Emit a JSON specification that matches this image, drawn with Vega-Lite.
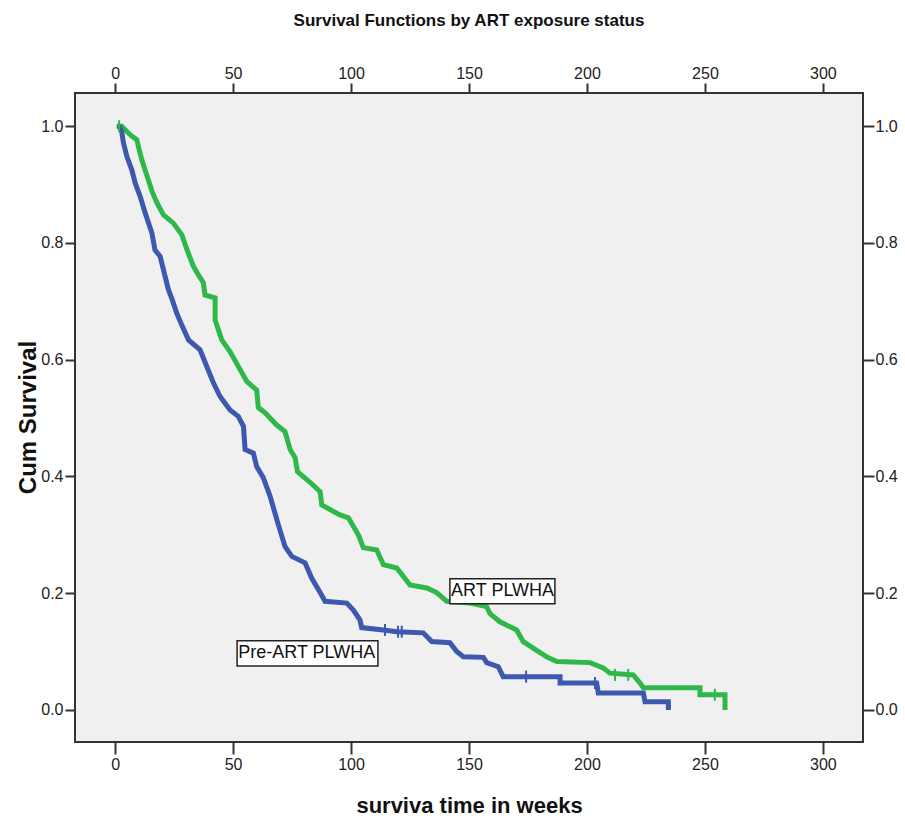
{
  "$schema": "https://vega.github.io/schema/vega-lite/v6.json",
  "width": 788,
  "height": 649,
  "autosize": {"type": "none"},
  "padding": {"left": 75, "top": 93, "right": 42, "bottom": 90},
  "background": "white",
  "title": {"text": "Survival Functions by ART exposure status", "fontSize": 17, "font": "Liberation Sans", "fontWeight": "bold", "color": "#111111", "anchor": "middle", "baseline": "alphabetic", "offset": 22},
  "config": {
    "view": {"fill": "#F0F0F0", "stroke": "#333333", "strokeWidth": 2},
    "font": "Liberation Sans",
    "axis": {"domain": false, "grid": false, "tickColor": "#333333", "tickWidth": 2, "labelFont": "Liberation Sans", "labelFontSize": 16, "labelColor": "#222222", "titleFont": "Liberation Sans", "titleFontWeight": "bold", "titleColor": "#111111"}
  },
  "datasets": {
    "curves": [
      {"group": "ART PLWHA", "i": 1, "t": 1.7, "S": 1.0},
      {"group": "ART PLWHA", "i": 2, "t": 2.8, "S": 1.0},
      {"group": "ART PLWHA", "i": 3, "t": 5.0, "S": 0.991},
      {"group": "ART PLWHA", "i": 4, "t": 6.8, "S": 0.984},
      {"group": "ART PLWHA", "i": 5, "t": 9.2, "S": 0.977},
      {"group": "ART PLWHA", "i": 6, "t": 10.2, "S": 0.960},
      {"group": "ART PLWHA", "i": 7, "t": 11.3, "S": 0.943},
      {"group": "ART PLWHA", "i": 8, "t": 12.7, "S": 0.925},
      {"group": "ART PLWHA", "i": 9, "t": 14.1, "S": 0.908},
      {"group": "ART PLWHA", "i": 10, "t": 15.7, "S": 0.888},
      {"group": "ART PLWHA", "i": 11, "t": 17.7, "S": 0.869},
      {"group": "ART PLWHA", "i": 12, "t": 20.5, "S": 0.848},
      {"group": "ART PLWHA", "i": 13, "t": 24.7, "S": 0.834},
      {"group": "ART PLWHA", "i": 14, "t": 28.3, "S": 0.814},
      {"group": "ART PLWHA", "i": 15, "t": 30.5, "S": 0.788},
      {"group": "ART PLWHA", "i": 16, "t": 33.2, "S": 0.760},
      {"group": "ART PLWHA", "i": 17, "t": 35.2, "S": 0.746},
      {"group": "ART PLWHA", "i": 18, "t": 37.4, "S": 0.732},
      {"group": "ART PLWHA", "i": 19, "t": 38.1, "S": 0.711},
      {"group": "ART PLWHA", "i": 20, "t": 42.4, "S": 0.706},
      {"group": "ART PLWHA", "i": 21, "t": 42.4, "S": 0.668},
      {"group": "ART PLWHA", "i": 22, "t": 45.2, "S": 0.634},
      {"group": "ART PLWHA", "i": 23, "t": 48.7, "S": 0.614},
      {"group": "ART PLWHA", "i": 24, "t": 53.0, "S": 0.583},
      {"group": "ART PLWHA", "i": 25, "t": 55.8, "S": 0.563},
      {"group": "ART PLWHA", "i": 26, "t": 60.0, "S": 0.548},
      {"group": "ART PLWHA", "i": 27, "t": 60.7, "S": 0.518},
      {"group": "ART PLWHA", "i": 28, "t": 63.6, "S": 0.509},
      {"group": "ART PLWHA", "i": 29, "t": 68.5, "S": 0.488},
      {"group": "ART PLWHA", "i": 30, "t": 72.0, "S": 0.477},
      {"group": "ART PLWHA", "i": 31, "t": 74.2, "S": 0.446},
      {"group": "ART PLWHA", "i": 32, "t": 76.3, "S": 0.432},
      {"group": "ART PLWHA", "i": 33, "t": 77.3, "S": 0.408},
      {"group": "ART PLWHA", "i": 34, "t": 82.6, "S": 0.390},
      {"group": "ART PLWHA", "i": 35, "t": 86.9, "S": 0.374},
      {"group": "ART PLWHA", "i": 36, "t": 87.6, "S": 0.351},
      {"group": "ART PLWHA", "i": 37, "t": 95.3, "S": 0.334},
      {"group": "ART PLWHA", "i": 38, "t": 98.9, "S": 0.329},
      {"group": "ART PLWHA", "i": 39, "t": 103.1, "S": 0.300},
      {"group": "ART PLWHA", "i": 40, "t": 105.2, "S": 0.278},
      {"group": "ART PLWHA", "i": 41, "t": 110.9, "S": 0.274},
      {"group": "ART PLWHA", "i": 42, "t": 113.7, "S": 0.249},
      {"group": "ART PLWHA", "i": 43, "t": 119.4, "S": 0.243},
      {"group": "ART PLWHA", "i": 44, "t": 125.0, "S": 0.214},
      {"group": "ART PLWHA", "i": 45, "t": 132.1, "S": 0.209},
      {"group": "ART PLWHA", "i": 46, "t": 136.3, "S": 0.201},
      {"group": "ART PLWHA", "i": 47, "t": 140.6, "S": 0.186},
      {"group": "ART PLWHA", "i": 48, "t": 150.4, "S": 0.183},
      {"group": "ART PLWHA", "i": 49, "t": 157.5, "S": 0.177},
      {"group": "ART PLWHA", "i": 50, "t": 158.9, "S": 0.165},
      {"group": "ART PLWHA", "i": 51, "t": 163.1, "S": 0.151},
      {"group": "ART PLWHA", "i": 52, "t": 170.2, "S": 0.137},
      {"group": "ART PLWHA", "i": 53, "t": 173.0, "S": 0.117},
      {"group": "ART PLWHA", "i": 54, "t": 177.2, "S": 0.106},
      {"group": "ART PLWHA", "i": 55, "t": 182.9, "S": 0.091},
      {"group": "ART PLWHA", "i": 56, "t": 187.2, "S": 0.083},
      {"group": "ART PLWHA", "i": 57, "t": 201.3, "S": 0.081},
      {"group": "ART PLWHA", "i": 58, "t": 206.9, "S": 0.072},
      {"group": "ART PLWHA", "i": 59, "t": 209.7, "S": 0.063},
      {"group": "ART PLWHA", "i": 60, "t": 219.6, "S": 0.060},
      {"group": "ART PLWHA", "i": 61, "t": 222.5, "S": 0.046},
      {"group": "ART PLWHA", "i": 62, "t": 223.9, "S": 0.038},
      {"group": "ART PLWHA", "i": 63, "t": 247.9, "S": 0.038},
      {"group": "ART PLWHA", "i": 64, "t": 247.9, "S": 0.026},
      {"group": "ART PLWHA", "i": 65, "t": 258.5, "S": 0.026},
      {"group": "ART PLWHA", "i": 66, "t": 258.5, "S": 0.004},
      {"group": "Pre-ART PLWHA", "i": 1, "t": 2.1, "S": 0.997},
      {"group": "Pre-ART PLWHA", "i": 2, "t": 2.8, "S": 0.991},
      {"group": "Pre-ART PLWHA", "i": 3, "t": 3.5, "S": 0.972},
      {"group": "Pre-ART PLWHA", "i": 4, "t": 5.0, "S": 0.948},
      {"group": "Pre-ART PLWHA", "i": 5, "t": 7.1, "S": 0.925},
      {"group": "Pre-ART PLWHA", "i": 6, "t": 8.5, "S": 0.903},
      {"group": "Pre-ART PLWHA", "i": 7, "t": 10.6, "S": 0.880},
      {"group": "Pre-ART PLWHA", "i": 8, "t": 12.7, "S": 0.852},
      {"group": "Pre-ART PLWHA", "i": 9, "t": 15.6, "S": 0.817},
      {"group": "Pre-ART PLWHA", "i": 10, "t": 16.9, "S": 0.788},
      {"group": "Pre-ART PLWHA", "i": 11, "t": 19.1, "S": 0.777},
      {"group": "Pre-ART PLWHA", "i": 12, "t": 20.5, "S": 0.754},
      {"group": "Pre-ART PLWHA", "i": 13, "t": 22.6, "S": 0.720},
      {"group": "Pre-ART PLWHA", "i": 14, "t": 24.2, "S": 0.703},
      {"group": "Pre-ART PLWHA", "i": 15, "t": 26.1, "S": 0.680},
      {"group": "Pre-ART PLWHA", "i": 16, "t": 28.4, "S": 0.658},
      {"group": "Pre-ART PLWHA", "i": 17, "t": 31.1, "S": 0.634},
      {"group": "Pre-ART PLWHA", "i": 18, "t": 36.0, "S": 0.617},
      {"group": "Pre-ART PLWHA", "i": 19, "t": 38.9, "S": 0.588},
      {"group": "Pre-ART PLWHA", "i": 20, "t": 41.7, "S": 0.560},
      {"group": "Pre-ART PLWHA", "i": 21, "t": 44.5, "S": 0.537},
      {"group": "Pre-ART PLWHA", "i": 22, "t": 48.7, "S": 0.514},
      {"group": "Pre-ART PLWHA", "i": 23, "t": 52.2, "S": 0.503},
      {"group": "Pre-ART PLWHA", "i": 24, "t": 54.4, "S": 0.486},
      {"group": "Pre-ART PLWHA", "i": 25, "t": 55.1, "S": 0.446},
      {"group": "Pre-ART PLWHA", "i": 26, "t": 58.6, "S": 0.440},
      {"group": "Pre-ART PLWHA", "i": 27, "t": 60.0, "S": 0.417},
      {"group": "Pre-ART PLWHA", "i": 28, "t": 62.8, "S": 0.398},
      {"group": "Pre-ART PLWHA", "i": 29, "t": 65.7, "S": 0.366},
      {"group": "Pre-ART PLWHA", "i": 30, "t": 69.2, "S": 0.317},
      {"group": "Pre-ART PLWHA", "i": 31, "t": 72.0, "S": 0.280},
      {"group": "Pre-ART PLWHA", "i": 32, "t": 74.9, "S": 0.263},
      {"group": "Pre-ART PLWHA", "i": 33, "t": 80.5, "S": 0.252},
      {"group": "Pre-ART PLWHA", "i": 34, "t": 83.3, "S": 0.226},
      {"group": "Pre-ART PLWHA", "i": 35, "t": 86.9, "S": 0.201},
      {"group": "Pre-ART PLWHA", "i": 36, "t": 89.0, "S": 0.186},
      {"group": "Pre-ART PLWHA", "i": 37, "t": 98.2, "S": 0.183},
      {"group": "Pre-ART PLWHA", "i": 38, "t": 101.0, "S": 0.171},
      {"group": "Pre-ART PLWHA", "i": 39, "t": 103.8, "S": 0.154},
      {"group": "Pre-ART PLWHA", "i": 40, "t": 104.5, "S": 0.141},
      {"group": "Pre-ART PLWHA", "i": 41, "t": 113.7, "S": 0.137},
      {"group": "Pre-ART PLWHA", "i": 42, "t": 119.4, "S": 0.134},
      {"group": "Pre-ART PLWHA", "i": 43, "t": 130.6, "S": 0.132},
      {"group": "Pre-ART PLWHA", "i": 44, "t": 134.2, "S": 0.117},
      {"group": "Pre-ART PLWHA", "i": 45, "t": 141.9, "S": 0.115},
      {"group": "Pre-ART PLWHA", "i": 46, "t": 144.8, "S": 0.100},
      {"group": "Pre-ART PLWHA", "i": 47, "t": 147.6, "S": 0.091},
      {"group": "Pre-ART PLWHA", "i": 48, "t": 156.1, "S": 0.090},
      {"group": "Pre-ART PLWHA", "i": 49, "t": 157.5, "S": 0.081},
      {"group": "Pre-ART PLWHA", "i": 50, "t": 162.4, "S": 0.074},
      {"group": "Pre-ART PLWHA", "i": 51, "t": 164.5, "S": 0.057},
      {"group": "Pre-ART PLWHA", "i": 52, "t": 188.6, "S": 0.057},
      {"group": "Pre-ART PLWHA", "i": 53, "t": 188.6, "S": 0.046},
      {"group": "Pre-ART PLWHA", "i": 54, "t": 204.1, "S": 0.046},
      {"group": "Pre-ART PLWHA", "i": 55, "t": 204.8, "S": 0.029},
      {"group": "Pre-ART PLWHA", "i": 56, "t": 223.9, "S": 0.029},
      {"group": "Pre-ART PLWHA", "i": 57, "t": 224.6, "S": 0.014},
      {"group": "Pre-ART PLWHA", "i": 58, "t": 234.5, "S": 0.014},
      {"group": "Pre-ART PLWHA", "i": 59, "t": 234.5, "S": 0.004}
    ],
    "censor": [
      {"group": "Pre-ART PLWHA", "t": 114.4, "S": 0.137},
      {"group": "Pre-ART PLWHA", "t": 119.9, "S": 0.134},
      {"group": "Pre-ART PLWHA", "t": 121.5, "S": 0.134},
      {"group": "Pre-ART PLWHA", "t": 174.2, "S": 0.057},
      {"group": "Pre-ART PLWHA", "t": 203.4, "S": 0.046},
      {"group": "ART PLWHA", "t": 1.7, "S": 1.0},
      {"group": "ART PLWHA", "t": 211.9, "S": 0.060},
      {"group": "ART PLWHA", "t": 217.5, "S": 0.060},
      {"group": "ART PLWHA", "t": 254.2, "S": 0.026}
    ],
    "labels": [
      {"label": "ART PLWHA", "x1": 141.9, "x2": 186.4, "y1": 0.1817, "y2": 0.2245, "tx": 142.4, "ty": 0.2031},
      {"label": "Pre-ART PLWHA", "x1": 51.7, "x2": 111.4, "y1": 0.0754, "y2": 0.1183, "tx": 52.2, "ty": 0.0968}
    ]
  },
  "layer": [
    {
      "data": {"name": "curves"},
      "mark": {"type": "line", "strokeWidth": 5, "strokeCap": "square", "strokeJoin": "miter"},
      "encoding": {
        "x": {"field": "t", "type": "quantitative", "scale": {"domain": [-17, 317], "nice": false, "zero": false},
          "axis": {"orient": "bottom", "title": "surviva time in weeks", "values": [0, 50, 100, 150, 200, 250, 300], "tickSize": 12, "labelPadding": 2, "titleFontSize": 22, "titleX": 394, "titleY": 63, "titleBaseline": "middle", "titleAlign": "center"}},
        "y": {"field": "S", "type": "quantitative", "scale": {"domain": [-0.055, 1.057], "nice": false, "zero": false},
          "axis": {"orient": "left", "title": "Cum Survival", "values": [0, 0.2, 0.4, 0.6, 0.8, 1.0], "format": ".1f", "tickSize": 10, "labelPadding": 2, "titleFontSize": 24, "titleX": -47, "titleY": 324, "titleAngle": -90, "titleBaseline": "middle", "titleAlign": "center"}},
        "color": {"field": "group", "type": "nominal", "scale": {"domain": ["ART PLWHA", "Pre-ART PLWHA"], "range": ["#2FB84A", "#3C58AF"]}, "legend": null},
        "order": {"field": "i", "type": "quantitative"}
      }
    },
    {
      "data": {"name": "censor"},
      "mark": {"type": "tick", "orient": "vertical", "size": 12, "thickness": 2, "opacity": 1},
      "encoding": {
        "x": {"field": "t", "type": "quantitative", "scale": {"domain": [-17, 317], "nice": false, "zero": false},
          "axis": {"orient": "top", "title": null, "values": [0, 50, 100, 150, 200, 250, 300], "tickSize": 10, "labelPadding": 2}},
        "y": {"field": "S", "type": "quantitative", "scale": {"domain": [-0.055, 1.057], "nice": false, "zero": false},
          "axis": {"orient": "right", "title": null, "values": [0, 0.2, 0.4, 0.6, 0.8, 1.0], "format": ".1f", "tickSize": 11, "labelPadding": 1}},
        "color": {"field": "group", "type": "nominal", "scale": {"domain": ["ART PLWHA", "Pre-ART PLWHA"], "range": ["#2FB84A", "#3C58AF"]}, "legend": null}
      }
    },
    {
      "data": {"name": "labels"},
      "mark": {"type": "rect", "fill": "white", "stroke": "#222222", "strokeWidth": 1.5},
      "encoding": {
        "x": {"field": "x1", "type": "quantitative", "axis": null},
        "x2": {"field": "x2"},
        "y": {"field": "y1", "type": "quantitative", "axis": null},
        "y2": {"field": "y2"}
      }
    },
    {
      "data": {"name": "labels"},
      "mark": {"type": "text", "align": "left", "baseline": "middle", "fontSize": 18, "font": "Liberation Sans", "color": "#111111"},
      "encoding": {
        "x": {"field": "tx", "type": "quantitative", "axis": null},
        "y": {"field": "ty", "type": "quantitative", "axis": null},
        "text": {"field": "label"}
      }
    }
  ],
  "resolve": {"axis": {"x": "independent", "y": "independent"}}
}
